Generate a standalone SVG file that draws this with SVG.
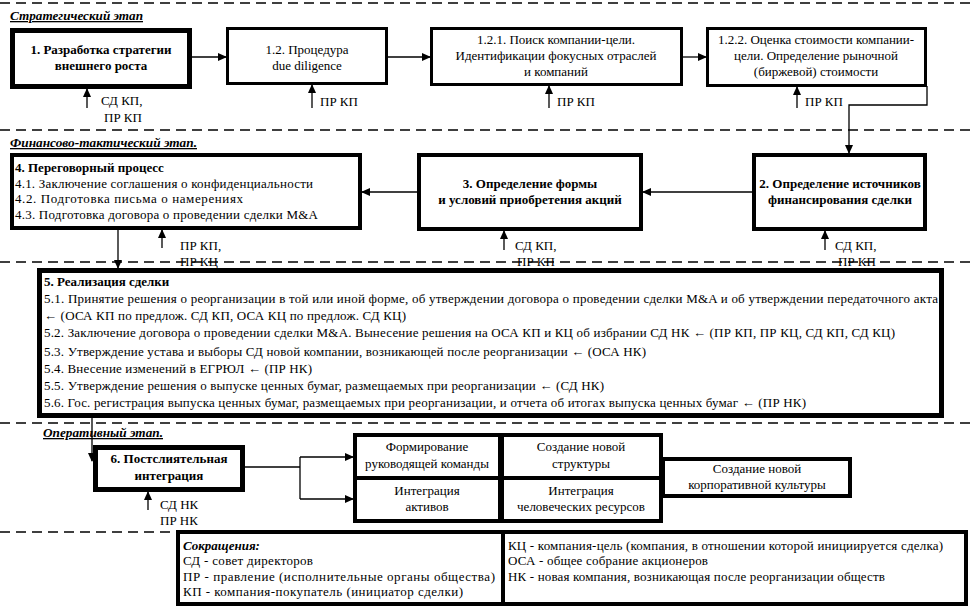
<svg xmlns="http://www.w3.org/2000/svg" width="970" height="608" viewBox="0 0 970 608" font-family="Liberation Serif, serif" font-size="13">
<style>
.b{font-weight:bold}
.c{text-anchor:middle}
.stage{font-weight:bold;font-style:italic;text-decoration:underline}
.dash{stroke:#000;stroke-width:1.3;stroke-dasharray:10 6;fill:none}
.box{fill:#fff;stroke:#000}
.ln{stroke:#000;stroke-width:1.3;fill:none}
</style>
<defs>
<marker id="ah" markerWidth="9" markerHeight="8" refX="8" refY="4" orient="auto" markerUnits="userSpaceOnUse">
<path d="M0,0 L9,4 L0,8 z" fill="#000"/>
</marker>
</defs>
<rect width="970" height="608" fill="#fff"/>

<g id="stages">
<line class="dash" x1="0" y1="3" x2="970" y2="3"/>
<line class="dash" x1="0" y1="130" x2="970" y2="130"/>
<line class="dash" x1="0" y1="262" x2="970" y2="262"/>
<line class="dash" x1="0" y1="423" x2="970" y2="423"/>
<line class="dash" x1="0" y1="532" x2="178" y2="532"/>
<text class="stage" x="10" y="20" textLength="133" lengthAdjust="spacingAndGlyphs">Стратегический этап</text>
<text class="stage" x="10" y="147" textLength="187" lengthAdjust="spacingAndGlyphs">Финансово-тактический этап.</text>
<text class="stage" x="43" y="437" textLength="120" lengthAdjust="spacingAndGlyphs">Оперативный этап.</text>
</g>

<g id="connectors">
<line class="ln" x1="192" y1="57" x2="226" y2="57" marker-end="url(#ah)"/>
<line class="ln" x1="388" y1="57" x2="430" y2="57" marker-end="url(#ah)"/>
<line class="ln" x1="683" y1="57" x2="706" y2="57" marker-end="url(#ah)"/>
<polyline class="ln" points="927,86 927,105 849,105 849,153" marker-end="url(#ah)"/>
<line class="ln" x1="752" y1="192" x2="643" y2="192" marker-end="url(#ah)"/>
<line class="ln" x1="417" y1="192" x2="362" y2="192" marker-end="url(#ah)"/>
<line class="ln" x1="118" y1="229" x2="118" y2="268" marker-end="url(#ah)"/>
<polyline class="ln" points="40,403 92,403 92,461" marker-end="url(#ah)"/>
<polyline class="ln" points="245,467 300,467"/>
<polyline class="ln" points="300,457 300,499"/>
<line class="ln" x1="300" y1="457" x2="353" y2="457" marker-end="url(#ah)"/>
<line class="ln" x1="300" y1="499" x2="353" y2="499" marker-end="url(#ah)"/>
<line class="ln" x1="87" y1="108" x2="87" y2="89" marker-end="url(#ah)"/>
<line class="ln" x1="312" y1="108" x2="312" y2="85" marker-end="url(#ah)"/>
<line class="ln" x1="549" y1="108" x2="549" y2="86" marker-end="url(#ah)"/>
<line class="ln" x1="797" y1="108" x2="797" y2="87" marker-end="url(#ah)"/>
<line class="ln" x1="162" y1="248" x2="162" y2="230" marker-end="url(#ah)"/>
<line class="ln" x1="504" y1="250" x2="504" y2="231" marker-end="url(#ah)"/>
<line class="ln" x1="825" y1="250" x2="825" y2="231" marker-end="url(#ah)"/>
<line class="ln" x1="148" y1="510" x2="148" y2="492" marker-end="url(#ah)"/>
</g>

<g id="inputs">
<text x="101" y="105">СД КП,</text>
<text x="104" y="122">ПР КП</text>
<text x="320" y="106">ПР КП</text>
<text x="557" y="106">ПР КП</text>
<text x="805" y="106">ПР КП</text>
<text x="180" y="250">ПР КП,</text>
<text x="180" y="266">ПР КЦ</text>
<text x="515" y="250">СД КП,</text>
<text x="517" y="266">ПР КП</text>
<text x="835" y="250">СД КП,</text>
<text x="838" y="266">ПР КП</text>
<text x="160" y="509">СД НК</text>
<text x="160" y="525">ПР НК</text>
</g>

<g id="n1">
<rect class="box" x="12.5" y="30.5" width="177" height="56" stroke-width="5"/>
<text class="b c" x="101" y="54">1. Разработка стратегии</text>
<text class="b c" x="101" y="70">внешнего роста</text>
</g>
<g id="n12">
<rect class="box" x="227.5" y="28.5" width="159" height="55" stroke-width="3"/>
<text class="c" x="307" y="54">1.2. Процедура</text>
<text class="c" x="307" y="70">due diligence</text>
</g>
<g id="n121">
<rect class="box" x="431.5" y="28.5" width="250" height="56" stroke-width="3"/>
<text class="c" x="556" y="44">1.2.1. Поиск компании-цели.</text>
<text class="c" x="556" y="60">Идентификации фокусных отраслей</text>
<text class="c" x="556" y="76">и компаний</text>
</g>
<g id="n122">
<rect class="box" x="707.5" y="28.5" width="218" height="57" stroke-width="3"/>
<text class="c" x="816" y="44">1.2.2. Оценка стоимости компании-</text>
<text class="c" x="816" y="60">цели. Определение рыночной</text>
<text class="c" x="816" y="76">(биржевой) стоимости</text>
</g>

<g id="n4">
<rect class="box" x="12" y="155" width="348" height="73" stroke-width="4"/>
<text class="b" x="15" y="172">4. Переговорный процесс</text>
<text x="15" y="188" textLength="298" lengthAdjust="spacing">4.1. Заключение соглашения о конфиденциальности</text>
<text x="15" y="203" textLength="228" lengthAdjust="spacing">4.2. Подготовка письма о намерениях</text>
<text x="15" y="219" textLength="303" lengthAdjust="spacing">4.3. Подготовка договора о проведении сделки M&amp;A</text>
</g>
<g id="n3">
<rect class="box" x="419" y="155" width="222" height="74" stroke-width="4"/>
<text class="b c" x="530" y="188">3. Определение формы</text>
<text class="b c" x="530" y="204">и условий приобретения акций</text>
</g>
<g id="n2">
<rect class="box" x="754" y="155" width="171" height="74" stroke-width="4"/>
<text class="b c" x="840" y="188">2. Определение источников</text>
<text class="b c" x="840" y="204">финансирования сделки</text>
</g>

<g id="n5">
<rect class="box" x="39.5" y="270.5" width="902" height="145" stroke-width="5"/>
<text class="b" x="44" y="286">5. Реализация сделки</text>
<text x="44" y="303" textLength="894" lengthAdjust="spacing">5.1. Принятие решения о реорганизации в той или иной форме, об утверждении договора о проведении сделки M&amp;A и об утверждении передаточного акта</text>
<text x="44" y="320" textLength="362" lengthAdjust="spacing">← (ОСА КП по предлож. СД КП, ОСА КЦ по предлож. СД КЦ)</text>
<text x="44" y="337" textLength="851" lengthAdjust="spacing">5.2. Заключение договора о проведении сделки M&amp;A. Вынесение решения на ОСА КП и КЦ об избрании СД НК ← (ПР КП, ПР КЦ, СД КП, СД КЦ)</text>
<text x="44" y="356" textLength="602" lengthAdjust="spacing">5.3. Утверждение устава и выборы СД новой компании, возникающей после реорганизации ← (ОСА НК)</text>
<text x="44" y="373" textLength="268" lengthAdjust="spacing">5.4. Внесение изменений в ЕГРЮЛ ← (ПР НК)</text>
<text x="44" y="390" textLength="560" lengthAdjust="spacing">5.5. Утверждение решения о выпуске ценных бумаг, размещаемых при реорганизации ← (СД НК)</text>
<text x="44" y="407" textLength="762" lengthAdjust="spacing">5.6. Гос. регистрация выпуска ценных бумаг, размещаемых при реорганизации, и отчета об итогах выпуска ценных бумаг ← (ПР НК)</text>
</g>

<g id="n6">
<rect class="box" x="95.5" y="447.5" width="147" height="42" stroke-width="5"/>
<text class="b c" x="169" y="463">6. Постслиятельная</text>
<text class="b c" x="169" y="480">интеграция</text>
</g>

<g id="n61">
<rect class="box" x="355" y="435" width="145" height="43" stroke-width="4"/>
<text class="c" x="427" y="451">Формирование</text>
<text class="c" x="427" y="468">руководящей команды</text>
</g>
<g id="n62">
<rect class="box" x="502" y="435" width="159" height="43" stroke-width="4"/>
<text class="c" x="581" y="451">Создание новой</text>
<text class="c" x="581" y="468">структуры</text>
</g>
<g id="n63">
<rect class="box" x="355" y="478" width="145" height="43" stroke-width="4"/>
<text class="c" x="427" y="495">Интеграция</text>
<text class="c" x="427" y="511">активов</text>
</g>
<g id="n64">
<rect class="box" x="502" y="478" width="159" height="43" stroke-width="4"/>
<text class="c" x="581" y="495">Интеграция</text>
<text class="c" x="581" y="511">человеческих ресурсов</text>
</g>
<g id="n65">
<rect class="box" x="663" y="459" width="187" height="37" stroke-width="4"/>
<text class="c" x="757" y="473">Создание новой</text>
<text class="c" x="757" y="489">корпоративной культуры</text>
</g>

<g id="legend">
<rect class="box" x="178" y="532" width="788" height="72" stroke-width="4"/>
<line x1="503" y1="532" x2="503" y2="604" stroke="#000" stroke-width="4"/>
<text x="183" y="550" font-weight="bold" font-style="italic">Сокращения:</text>
<text x="183" y="565" textLength="130" lengthAdjust="spacing">СД - совет директоров</text>
<text x="183" y="581" textLength="312" lengthAdjust="spacing">ПР - правление (исполнительные органы общества)</text>
<text x="183" y="596" textLength="280" lengthAdjust="spacing">КП - компания-покупатель (инициатор сделки)</text>
<text x="508" y="550" textLength="435" lengthAdjust="spacing">КЦ - компания-цель (компания, в отношении которой инициируется сделка)</text>
<text x="508" y="565" textLength="200" lengthAdjust="spacing">ОСА - общее собрание акционеров</text>
<text x="508" y="581" textLength="377" lengthAdjust="spacing">НК - новая компания, возникающая после реорганизации обществ</text>
</g>
</svg>
